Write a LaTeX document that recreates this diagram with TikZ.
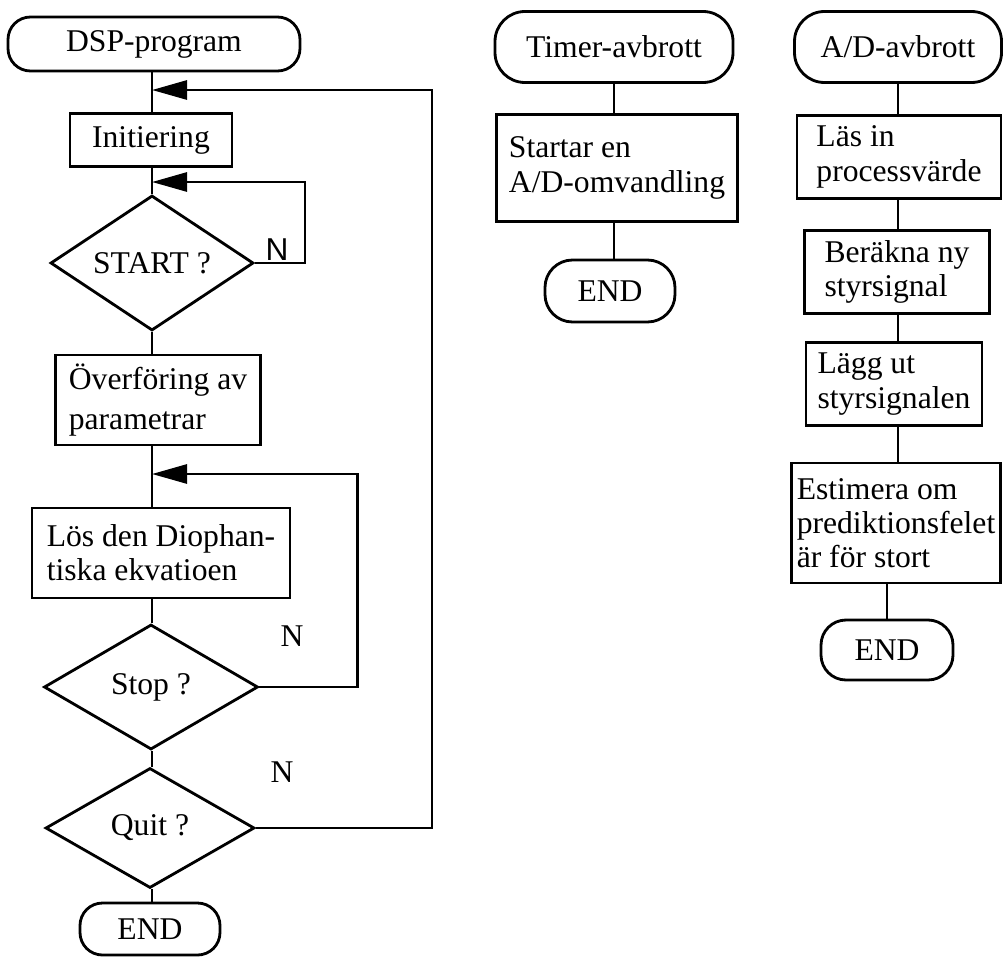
\documentclass[tikz,border=0pt]{standalone}
\usepackage{fontspec}
\setmainfont{Liberation Serif}
\setsansfont{Liberation Sans}
\usetikzlibrary{shapes.geometric,arrows.meta}

\begin{document}
\begin{tikzpicture}[
  every node/.style={font=\fontsize{18}{19.5}\selectfont},
  term/.style={draw,rectangle,rounded corners=0.45cm,line width=1.6pt,inner sep=0pt},
  proc/.style={draw,rectangle,align=left,line width=1.6pt,inner sep=0pt},
  dec/.style={draw,diamond,aspect=2,line width=1.6pt,inner sep=0pt},
  ln/.style={draw,line width=1.6pt},
  back/.style={ln,-{Triangle[length=7mm,width=3.8mm]}},
  x=0.2mm,y=-0.2mm]

\useasboundingbox (0,0) rectangle (1003,958);

% ---- DSP-program ----
\node[term,minimum width=5.84cm,minimum height=1.08cm] (dsp) at (154,44) {DSP-program};
\node[proc,minimum width=3.24cm,minimum height=1.06cm] (init) at (151,140) {Initiering};
\node[dec,minimum width=4.06cm,minimum height=2.7cm] (start) at (152,263) {START ?};
\node[proc,minimum width=4.1cm,minimum height=1.8cm] (overf) at (158,400) {\"Overf\"oring av\\[3pt]parametrar};
\node[proc,minimum width=5.16cm,minimum height=1.8cm] (los) at (161,553) {L\"os den Diophan-\\tiska ekvatioen};
\node[dec,minimum width=4.28cm,minimum height=2.5cm] (stop) at (151,687) {Stop ?};
\node[dec,minimum width=4.18cm,minimum height=2.4cm] (quit) at (150,828) {Quit ?};
\node[term,minimum width=2.8cm,minimum height=1.04cm] (end1) at (150,929) {END};

\foreach \s/\t in {dsp/init,init/start,start/overf,overf/los,los/stop,stop/quit,quit/end1}
  \draw[ln] (\s.south -| start) -- (\t.north -| start);

\coordinate (j1) at (152,90);
\coordinate (j2) at (152,182);
\coordinate (j3) at (152,474);
\draw[back] (start.east) -- ++(50,0) |- (j2);
\draw[back] (stop.east) -- ++(98,0) |- (j3);
\draw[back] (quit.east) -- ++(176,0) |- (j1);

\node (nstart) at (277,250) {\sffamily N};
\node (nstop) at (292,636) {N};
\node (nquit) at (282,772) {N};

% ---- Timer-avbrott ----
\node[term,rounded corners=0.6cm,minimum width=4.76cm,minimum height=1.42cm] (timer) at (614,47) {Timer-avbrott};
\node[proc,minimum width=4.82cm,minimum height=2.14cm] (startar) at (617,168) {Startar en\\A/D-omvandling};
\node[term,rounded corners=0.55cm,minimum width=2.6cm,minimum height=1.24cm] (end2) at (610,291) {END};
\foreach \s/\t in {timer/startar,startar/end2}
  \draw[ln] (\s.south -| timer) -- (\t.north -| timer);

% ---- A/D-avbrott ----
\node[term,rounded corners=0.6cm,minimum width=4.14cm,minimum height=1.42cm] (adint) at (898,47) {A/D-avbrott};
\node[proc,minimum width=4.08cm,minimum height=1.66cm] (lasin) at (899,157) {L\"as in\\processv\"arde};
\node[proc,minimum width=3.7cm,minimum height=1.66cm] (berakna) at (897,272) {Ber\"akna ny\\styrsignal};
\node[proc,minimum width=3.52cm,minimum height=1.66cm] (lagg) at (894,384) {L\"agg ut\\styrsignalen};
\node[proc,minimum width=4.18cm,minimum height=2.4cm] (estim) at (896,523) {Estimera om\\prediktionsfelet\\\"ar f\"or stort};
\node[term,rounded corners=0.5cm,minimum width=2.64cm,minimum height=1.2cm] (end3) at (887,650) {END};
\foreach \s/\t in {adint/lasin,lasin/berakna,berakna/lagg,lagg/estim}
  \draw[ln] (\s.south -| adint) -- (\t.north -| adint);
\draw[ln] (end3.north) -- (end3.north |- estim.south);
\end{tikzpicture}
\end{document}
